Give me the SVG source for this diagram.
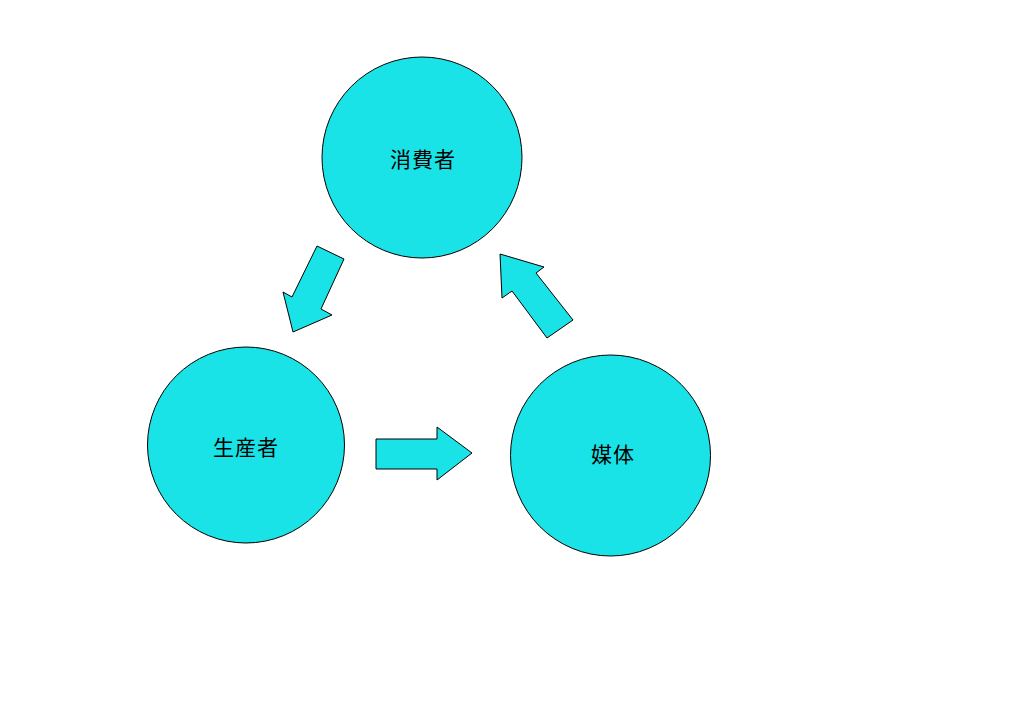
<svg xmlns="http://www.w3.org/2000/svg" width="1024" height="723" viewBox="0 0 1024 723">
<style>
.n{fill:#19e3e6;stroke:#000;stroke-width:1}
.a{fill:#19e3e6;stroke:#000;stroke-width:1;stroke-linejoin:miter}
.t{font-family:"Liberation Sans","Noto Sans CJK JP",sans-serif;font-size:21px;fill:#000;text-anchor:middle;letter-spacing:1px}
</style>
<rect width="1024" height="723" fill="#fff"/>
<g id="consumer"><ellipse class="n" cx="422" cy="157.5" rx="100" ry="100.5"/><text class="t" x="423" y="167">消費者</text></g>
<g id="producer"><ellipse class="n" cx="246" cy="445" rx="98.5" ry="98"/><text class="t" x="246" y="455">生産者</text></g>
<g id="media"><ellipse class="n" cx="610.5" cy="455.5" rx="100" ry="100.5"/><text class="t" x="613" y="462">媒体</text></g>
<g id="connectors">
<polygon class="a" points="317,246 344,259 321,309 332,315 293,332 283,292 292,297"/>
<polygon class="a" points="376,439 437,439 437,427 472,453 437,480 437,469 376,469"/>
<polygon class="a" points="547,338 573,320 536,273 544,267 500,254 502,298 512,291"/>
</g>
</svg>
